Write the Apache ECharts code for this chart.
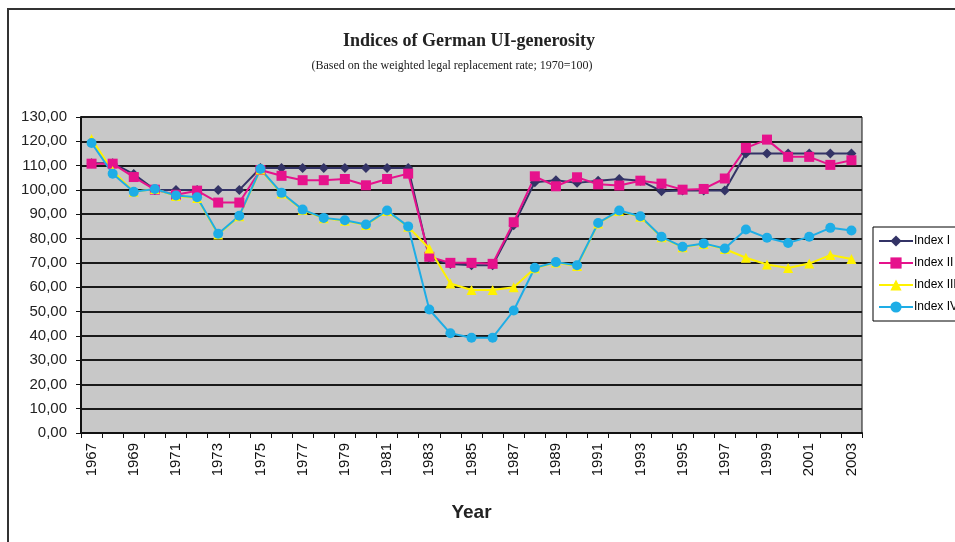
<!DOCTYPE html>
<html>
<head>
<meta charset="utf-8">
<script src="https://cdn.jsdelivr.net/npm/echarts@6/dist/echarts.min.js"></script>
<style>html,body{margin:0;padding:0;background:#fff;}#chart{width:955px;height:542px;}</style>
</head>
<body>
<div id="chart"></div>
<script>
const years = [];
for (let y = 1967; y <= 2003; y++) years.push(String(y));

const indexI = [111,111,106.5,100,100,100,100,100,109,109,109,
  109,109,109,109,109,
  72,69.5,69,69,85.5,103.2,104,102.9,
  103.8,104.5,103.8,99.5,99.8,99.8,99.8,
  115,115,115,115,115,115];
const indexII = [110.8,110.8,105.3,100.1,98,99.7,94.8,94.8,108.2,105.8,104,
  104,104.5,101.9,104.5,106.7,
  72.5,70,70,69.6,86.7,105.6,101.5,105.2,
  102.3,101.8,103.8,102.6,100.1,100.4,104.7,
  117.3,120.7,113.6,113.6,110.3,112.2];
const indexIII = [121,107.8,99.2,100.4,97.5,96.7,81.7,89.2,108.4,98.5,91.7,
  88.3,87.3,85.6,91.3,84.8,
  75.9,61.5,58.8,58.8,60,67.8,70.1,68.7,
  86.2,91.3,89,80.5,76.4,77.8,75.7,
  72.1,69.3,67.9,69.7,73.2,71.6];
const indexIV = [119.3,106.7,99.2,100.4,97.7,97,82,89.4,108.6,98.8,91.9,
  88.5,87.5,85.8,91.5,85,
  50.8,41,39.2,39.2,50.4,68,70.3,69,
  86.4,91.5,89.2,80.7,76.6,78,75.9,
  83.7,80.3,78.2,80.7,84.4,83.3];
const seriesNames = ['Index I','Index II','Index III','Index IV'];

const chart = echarts.init(document.getElementById('chart'), null, {renderer:'canvas'});
const mk = (name, data, color, symbol, size) => ({
  name, type:'line', data, symbol, symbolSize:size,
  itemStyle:{color}, lineStyle:{color, width:2}, animation:false
});
chart.setOption({
  backgroundColor:'#fff',
  animation:false,
  title:[
    {text:'Indices of German UI-generosity', left:464, top:27, textAlign:'center',
     textStyle:{fontFamily:'Liberation Serif', fontSize:18, fontWeight:'bold', color:'#222'}},
    {text:'(Based on the weighted legal replacement rate; 1970=100)', left:447, top:55, textAlign:'center',
     textStyle:{fontFamily:'Liberation Serif', fontSize:12, fontWeight:'normal', color:'#222'}}
  ],
  graphic:[{type:'rect', shape:{x:8,y:9,width:1000,height:600}, style:{fill:'none', stroke:'#333', lineWidth:2}, silent:true}],
  legend:{
    orient:'vertical', left:873, top:227, data:seriesNames,
    itemWidth:34, itemHeight:14, itemGap:10, padding:[8,30,8,5],
    borderColor:'#000', borderWidth:1, backgroundColor:'#fff',
    textStyle:{fontFamily:'Liberation Sans', fontSize:12, color:'#000', padding:[0,0,0,-4]}
  },
  grid:{left:81, right:93, top:117, bottom:109, show:true, backgroundColor:'#C8C8C8', borderColor:'#111', borderWidth:1},
  xAxis:{
    type:'category', data:years, boundaryGap:true,
    axisLine:{lineStyle:{color:'#111', width:2}},
    axisTick:{show:true, interval:0, length:5, lineStyle:{color:'#111'}},
    axisLabel:{interval:1, rotate:90, margin:10, fontFamily:'Liberation Sans', fontSize:15, color:'#111'},
    name:'Year', nameLocation:'middle', nameGap:70,
    nameTextStyle:{fontFamily:'Liberation Sans', fontSize:19, fontWeight:'bold', color:'#222'}
  },
  yAxis:{
    type:'value', min:0, max:130, interval:10,
    axisLine:{show:true, lineStyle:{color:'#111', width:2}},
    axisTick:{show:true, length:5, lineStyle:{color:'#111'}},
    splitLine:{lineStyle:{color:'#1a1a1a', width:2}},
    axisLabel:{margin:14, fontFamily:'Liberation Sans', fontSize:15, color:'#222',
      formatter:v=>v.toFixed(2).replace('.',',')}
  },
  series:[
    mk('Index I', indexI, '#333366', 'diamond', 10),
    mk('Index II', indexII, '#E6128C', 'rect', 10),
    mk('Index III', indexIII, '#FFF200', 'triangle', 10),
    mk('Index IV', indexIV, '#1EADE6', 'circle', 10)
  ]
});
</script>
</body>
</html>
